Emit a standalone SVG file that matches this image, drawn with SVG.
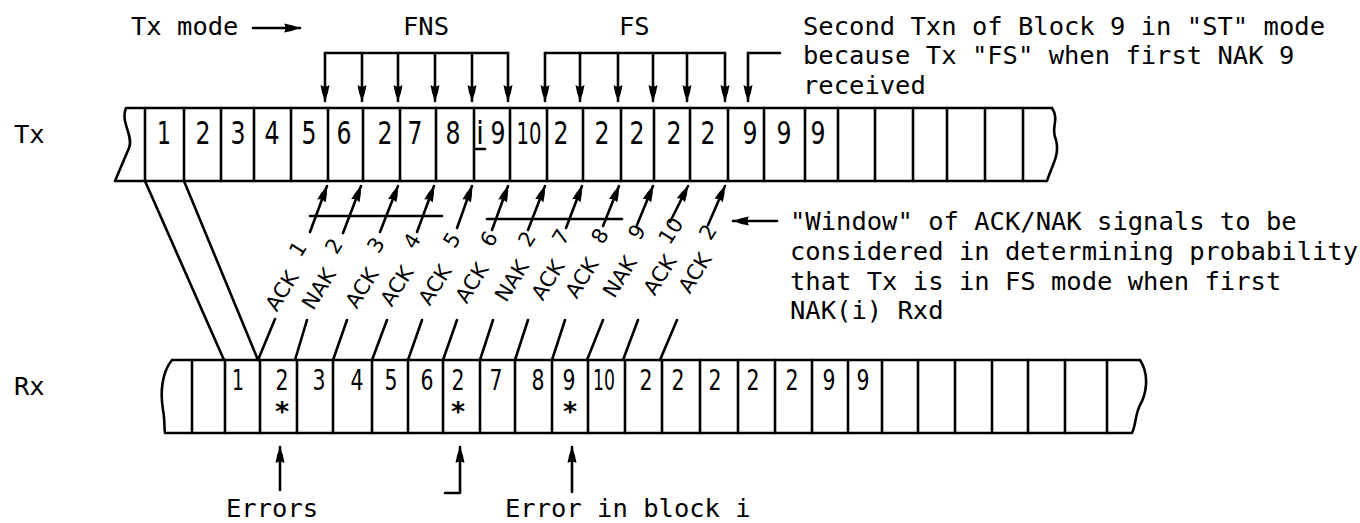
<svg xmlns="http://www.w3.org/2000/svg" width="1360" height="523" viewBox="0 0 1360 523">
<defs>
<style>
.ln{stroke:#000;stroke-width:2.6;fill:none;stroke-linecap:round;stroke-linejoin:round}
.tt{font-family:"DejaVu Sans Mono","Liberation Mono",monospace;font-size:25.5px;fill:#000}
.dg{font-family:"DejaVu Sans","Liberation Sans",sans-serif;fill:#000;text-anchor:middle}
.tx{font-size:32px}
.rx{font-size:28px}
.lb{font-family:"DejaVu Sans","Liberation Sans",sans-serif;font-size:21px;fill:#000;text-anchor:middle;dominant-baseline:central}
</style>
<marker id="ah" viewBox="0 -5 16 10" refX="16" refY="0" markerWidth="16" markerHeight="10" markerUnits="userSpaceOnUse" orient="auto">
<path d="M0,-4.5 Q8,-3.5 16,0 Q8,3.5 0,4.5 Q3,0 0,-4.5Z" fill="#000"/>
</marker>
</defs>
<rect width="1360" height="523" fill="#fff"/>

<g id="row-labels">
<text class="tt" x="14" y="143">Tx</text>
<text class="tt" x="14" y="395">Rx</text>
</g>

<g id="tx-strip">
<path class="ln" d="M126,108H1052M115,181H1047M126,108C120,122 134,136 129,148L115,181M1052,108C1060,120 1050,128 1056,140C1060,155 1052,165 1047,181"/>
<path class="ln" d="M145,108V181M184,108V181M221,108V181M254,108V181M291,108V181M328,108V181M363,108V181M400,108V181M436,108V181M474,108V181M510,108V181M547,108V181M583,108V181M621,108V181M654,108V181M690,108V181M728,108V181M764,108V181M805,108V181M838,108V181M875,108V181M913,108V181M947,108V181M985,108V181M1023,108V181"/>
<g class="dg tx">
<text x="164" y="144" textLength="14" lengthAdjust="spacingAndGlyphs">1</text>
<text x="203" y="144" textLength="15" lengthAdjust="spacingAndGlyphs">2</text>
<text x="238" y="144" textLength="15" lengthAdjust="spacingAndGlyphs">3</text>
<text x="272" y="144" textLength="15" lengthAdjust="spacingAndGlyphs">4</text>
<text x="309" y="144" textLength="15" lengthAdjust="spacingAndGlyphs">5</text>
<text x="344" y="144" textLength="15" lengthAdjust="spacingAndGlyphs">6</text>
<text x="385" y="144" textLength="15" lengthAdjust="spacingAndGlyphs">2</text>
<text x="415" y="144" textLength="15" lengthAdjust="spacingAndGlyphs">7</text>
<text x="453" y="144" textLength="15" lengthAdjust="spacingAndGlyphs">8</text>
<text x="480" y="144" textLength="8" lengthAdjust="spacingAndGlyphs">i</text>
<text x="498" y="144" textLength="15" lengthAdjust="spacingAndGlyphs">9</text>
<text x="529" y="144" textLength="25" lengthAdjust="spacingAndGlyphs" style="font-size:30px">10</text>
<text x="561" y="144" textLength="15" lengthAdjust="spacingAndGlyphs">2</text>
<text x="602" y="144" textLength="15" lengthAdjust="spacingAndGlyphs">2</text>
<text x="637" y="144" textLength="15" lengthAdjust="spacingAndGlyphs">2</text>
<text x="674" y="144" textLength="15" lengthAdjust="spacingAndGlyphs">2</text>
<text x="708" y="144" textLength="15" lengthAdjust="spacingAndGlyphs">2</text>
<text x="750" y="144" textLength="15" lengthAdjust="spacingAndGlyphs">9</text>
<text x="784" y="144" textLength="15" lengthAdjust="spacingAndGlyphs">9</text>
<text x="818" y="144" textLength="15" lengthAdjust="spacingAndGlyphs">9</text>
</g>
<path class="ln" d="M476,149H485"/>
</g>

<g id="rx-strip">
<path class="ln" d="M172,360H1140M165,433H1132M172,360C162,372 160,392 163,410C165,420 164,428 165,433M1140,360C1150,375 1146,395 1140,405C1135,415 1136,425 1132,433"/>
<path class="ln" d="M192,360V433M225,360V433M260,360V433M297,360V433M333,360V433M372,360V433M408,360V433M443,360V433M480,360V433M515,360V433M552,360V433M588,360V433M625,360V433M662,360V433M700,360V433M738,360V433M775,360V433M812,360V433M848,360V433M882,360V433M918,360V433M955,360V433M992,360V433M1028,360V433M1065,360V433M1107,360V433"/>
<g class="dg rx">
<text x="238" y="390" textLength="12" lengthAdjust="spacingAndGlyphs">1</text>
<text x="282" y="390" textLength="13" lengthAdjust="spacingAndGlyphs">2</text>
<text x="319" y="390" textLength="13" lengthAdjust="spacingAndGlyphs">3</text>
<text x="357" y="390" textLength="13" lengthAdjust="spacingAndGlyphs">4</text>
<text x="391" y="390" textLength="13" lengthAdjust="spacingAndGlyphs">5</text>
<text x="427" y="390" textLength="13" lengthAdjust="spacingAndGlyphs">6</text>
<text x="458" y="390" textLength="13" lengthAdjust="spacingAndGlyphs">2</text>
<text x="496" y="390" textLength="13" lengthAdjust="spacingAndGlyphs">7</text>
<text x="538" y="390" textLength="13" lengthAdjust="spacingAndGlyphs">8</text>
<text x="569" y="390" textLength="13" lengthAdjust="spacingAndGlyphs">9</text>
<text x="604" y="390" textLength="22" lengthAdjust="spacingAndGlyphs">10</text>
<text x="646" y="390" textLength="13" lengthAdjust="spacingAndGlyphs">2</text>
<text x="678" y="390" textLength="13" lengthAdjust="spacingAndGlyphs">2</text>
<text x="715" y="390" textLength="13" lengthAdjust="spacingAndGlyphs">2</text>
<text x="753" y="390" textLength="13" lengthAdjust="spacingAndGlyphs">2</text>
<text x="792" y="390" textLength="13" lengthAdjust="spacingAndGlyphs">2</text>
<text x="829" y="390" textLength="13" lengthAdjust="spacingAndGlyphs">9</text>
<text x="863" y="390" textLength="13" lengthAdjust="spacingAndGlyphs">9</text>
</g>
<g class="dg" style="font-size:27px;font-weight:bold">
<text x="282" y="421">*</text>
<text x="458" y="421">*</text>
<text x="570" y="421">*</text>
</g>
</g>

<g id="top-annotations">
<text class="tt" x="131" y="35">Tx mode</text>
<text class="tt" x="403" y="35">FNS</text>
<text class="tt" x="619" y="35">FS</text>
<text class="tt" x="803" y="35">Second Txn of Block 9 in "ST" mode</text>
<text class="tt" x="803" y="64">because Tx "FS" when first NAK 9</text>
<text class="tt" x="803" y="94">received</text>
</g>

<g id="window-note">
<text class="tt" x="790" y="230">"Window" of ACK/NAK signals to be</text>
<text class="tt" x="790" y="260">considered in determining probability</text>
<text class="tt" x="790" y="290">that Tx is in FS mode when first</text>
<text class="tt" x="790" y="319">NAK(i) Rxd</text>
</g>

<g id="error-labels">
<text class="tt" x="226" y="517">Errors</text>
<text class="tt" x="505" y="517">Error in block i</text>
</g>

<g id="signal-labels">
<text class="lb" transform="translate(282,291) rotate(-58)">ACK</text>
<text class="lb" transform="translate(319,289) rotate(-58)">NAK</text>
<text class="lb" transform="translate(362,288) rotate(-58)">ACK</text>
<text class="lb" transform="translate(397,286) rotate(-58)">ACK</text>
<text class="lb" transform="translate(435,285) rotate(-58)">ACK</text>
<text class="lb" transform="translate(472,283) rotate(-58)">ACK</text>
<text class="lb" transform="translate(512,281) rotate(-58)">NAK</text>
<text class="lb" transform="translate(548,280) rotate(-58)">ACK</text>
<text class="lb" transform="translate(582,278) rotate(-58)">ACK</text>
<text class="lb" transform="translate(620,277) rotate(-58)">NAK</text>
<text class="lb" transform="translate(660,275) rotate(-58)">ACK</text>
<text class="lb" transform="translate(695,273) rotate(-58)">ACK</text>
<text class="lb" transform="translate(298,249) rotate(-58)">1</text>
<text class="lb" transform="translate(334,246) rotate(-58)">2</text>
<text class="lb" transform="translate(376,245) rotate(-58)">3</text>
<text class="lb" transform="translate(412,241) rotate(-58)">4</text>
<text class="lb" transform="translate(452,240) rotate(-58)">5</text>
<text class="lb" transform="translate(489,239) rotate(-58)">6</text>
<text class="lb" transform="translate(527,239) rotate(-58)">2</text>
<text class="lb" transform="translate(561,237) rotate(-58)">7</text>
<text class="lb" transform="translate(600,236) rotate(-58)">8</text>
<text class="lb" transform="translate(637,232) rotate(-58)">9</text>
<text class="lb" transform="translate(671,231) rotate(-58)">10</text>
<text class="lb" transform="translate(708,232) rotate(-58)">2</text>
</g>

<g id="connectors" class="ln">
<path d="M253,28H300" marker-end="url(#ah)"/>
<path d="M777,221H733" marker-end="url(#ah)"/>
<path d="M325,53H508M545,53H725M780,53H748"/>
<path d="M325,53V101" marker-end="url(#ah)"/>
<path d="M362,53V101" marker-end="url(#ah)"/>
<path d="M398,53V101" marker-end="url(#ah)"/>
<path d="M435,53V101" marker-end="url(#ah)"/>
<path d="M472,53V101" marker-end="url(#ah)"/>
<path d="M508,53V101" marker-end="url(#ah)"/>
<path d="M545,53V101" marker-end="url(#ah)"/>
<path d="M580,53V101" marker-end="url(#ah)"/>
<path d="M618,53V101" marker-end="url(#ah)"/>
<path d="M653,53V101" marker-end="url(#ah)"/>
<path d="M687,53V101" marker-end="url(#ah)"/>
<path d="M725,53V101" marker-end="url(#ah)"/>
<path d="M748,53V101" marker-end="url(#ah)"/>
<path d="M310,232L327,186" marker-end="url(#ah)"/>
<path d="M343,233L361,186" marker-end="url(#ah)"/>
<path d="M380,232L398,186" marker-end="url(#ah)"/>
<path d="M417,232L434,186" marker-end="url(#ah)"/>
<path d="M457,228L472,186" marker-end="url(#ah)"/>
<path d="M492,230L508,186" marker-end="url(#ah)"/>
<path d="M528,230L545,186" marker-end="url(#ah)"/>
<path d="M566,228L582,186" marker-end="url(#ah)"/>
<path d="M603,226L619,186" marker-end="url(#ah)"/>
<path d="M637,225L653,186" marker-end="url(#ah)"/>
<path d="M670,222L688,186" marker-end="url(#ah)"/>
<path d="M708,225L725,186" marker-end="url(#ah)"/>
<path d="M310,216H442M487,219H622"/>
<path d="M145,181L224,360M184,181L258,360"/>
<path d="M275,319L258,360M307,320L295,360M347,320L333,360M387,320L372,360M422,320L408,360M457,320L443,360M493,320L480,360M528,320L515,360M565,320L552,360M603,320L587,360M638,320L623,360M677,320L660,360"/>
<path d="M280,490V447" marker-end="url(#ah)"/>
<path d="M445,493H460V447" marker-end="url(#ah)"/>
<path d="M572,492V447" marker-end="url(#ah)"/>
</g>
</svg>
